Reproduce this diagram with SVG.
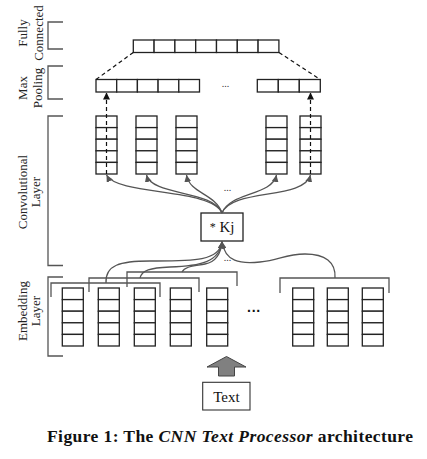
<svg xmlns="http://www.w3.org/2000/svg" width="427" height="459" viewBox="0 0 427 459">
<defs>
<style>
.cell{fill:#fff;stroke:#222;stroke-width:1.3}
.brk{fill:none;stroke:#555;stroke-width:1.3}
.cur{fill:none;stroke:#555;stroke-width:1.3}
.dash{fill:none;stroke:#111;stroke-width:1.2;stroke-dasharray:4 3}
.lbl{font-family:"Liberation Serif","Times New Roman",serif;font-size:13px;fill:#222}
.dots{font-family:"Liberation Serif",serif;font-size:10px;fill:#333}
</style>
<marker id="ah" viewBox="0 0 10 10" refX="10" refY="5" markerWidth="7" markerHeight="7" markerUnits="userSpaceOnUse" orient="auto"><path d="M0,0 L10,5 L0,10 z" fill="#555"/></marker>
<marker id="ahb" viewBox="0 0 10 10" refX="10" refY="5" markerWidth="7" markerHeight="7" markerUnits="userSpaceOnUse" orient="auto"><path d="M0,0 L10,5 L0,10 z" fill="#111"/></marker>
<g id="col">
<rect class="cell" x="0" y="0" width="21" height="11.6"/>
<rect class="cell" x="0" y="11.6" width="21" height="11.6"/>
<rect class="cell" x="0" y="23.2" width="21" height="11.6"/>
<rect class="cell" x="0" y="34.8" width="21" height="11.6"/>
<rect class="cell" x="0" y="46.4" width="21" height="11.6"/>
</g>
</defs>
<rect width="427" height="459" fill="#fff"/>

<g id="labels">
<g id="lbl-fc">
<path class="brk" d="M63,22 H48 V49 H63"/>
<text class="lbl" transform="translate(27,33) rotate(-90)" text-anchor="middle">Fully</text>
<text class="lbl" transform="translate(43,33) rotate(-90)" text-anchor="middle">Connected</text>
</g>
<g id="lbl-mp">
<path class="brk" d="M63,66 H48 V99 H63"/>
<text class="lbl" transform="translate(27,88) rotate(-90)" text-anchor="middle">Max</text>
<text class="lbl" transform="translate(42,88) rotate(-90)" text-anchor="middle">Pooling</text>
</g>
<g id="lbl-conv">
<path class="brk" d="M63,116 H48 V265.5 H63"/>
<text class="lbl" transform="translate(27,192) rotate(-90)" text-anchor="middle">Convolutional</text>
<text class="lbl" transform="translate(40,192) rotate(-90)" text-anchor="middle">Layer</text>
</g>
<g id="lbl-emb">
<path class="brk" d="M63,277 H48 V356 H63"/>
<text class="lbl" transform="translate(27,311) rotate(-90)" text-anchor="middle">Embedding</text>
<text class="lbl" transform="translate(40,311) rotate(-90)" text-anchor="middle">Layer</text>
</g>
</g>

<g id="fully-connected">
<rect class="cell" x="133.3" y="40" width="20.8" height="12.5"/>
<rect class="cell" x="154.1" y="40" width="20.8" height="12.5"/>
<rect class="cell" x="174.9" y="40" width="20.8" height="12.5"/>
<rect class="cell" x="195.7" y="40" width="20.8" height="12.5"/>
<rect class="cell" x="216.5" y="40" width="20.8" height="12.5"/>
<rect class="cell" x="237.3" y="40" width="20.8" height="12.5"/>
<rect class="cell" x="258.1" y="40" width="20.8" height="12.5"/>
</g>

<g id="max-pooling">
<rect class="cell" x="96" y="79.5" width="20.7" height="12.5"/>
<rect class="cell" x="116.7" y="79.5" width="20.7" height="12.5"/>
<rect class="cell" x="137.4" y="79.5" width="20.7" height="12.5"/>
<rect class="cell" x="158.1" y="79.5" width="20.7" height="12.5"/>
<rect class="cell" x="178.8" y="79.5" width="20.7" height="12.5"/>
<text class="dots" x="225.5" y="87" text-anchor="middle">...</text>
<rect class="cell" x="257.3" y="79.5" width="21" height="12.5"/>
<rect class="cell" x="278.3" y="79.5" width="21" height="12.5"/>
<rect class="cell" x="299.3" y="79.5" width="21" height="12.5"/>
</g>

<g id="conv-layer">
<use href="#col" x="96" y="116"/>
<use href="#col" x="136" y="116"/>
<use href="#col" x="176" y="116"/>
<text class="dots" x="227.5" y="191" text-anchor="middle">...</text>
<use href="#col" x="266" y="116"/>
<use href="#col" x="300" y="116"/>
</g>

<g id="kernel">
<rect x="201" y="213" width="42" height="28" fill="#fff" stroke="#222" stroke-width="1.3"/>
<text x="222" y="232" text-anchor="middle" font-family="Liberation Serif, serif" font-size="15" fill="#111"><tspan font-size="12" dy="-1">*</tspan><tspan dy="1"> Kj</tspan></text>
</g>

<g id="embedding-layer">
<use href="#col" x="62.3" y="288"/>
<use href="#col" x="98.3" y="288"/>
<use href="#col" x="134.3" y="288"/>
<use href="#col" x="170.3" y="288"/>
<use href="#col" x="206.7" y="288"/>
<text x="254" y="316" text-anchor="middle" font-family="Liberation Sans, sans-serif" font-size="14" font-weight="bold" fill="#111">···</text>
<use href="#col" x="292.7" y="288"/>
<use href="#col" x="327.3" y="288"/>
<use href="#col" x="362.3" y="288"/>
<path class="brk" d="M51,297 V283 H160 V297"/>
<path class="brk" d="M89,292 V278 H199 V292"/>
<path class="brk" d="M127,287 V272 H237 V286"/>
<path class="brk" d="M280,293 V278 H389 V293"/>
<text class="dots" x="227.5" y="261" text-anchor="middle">...</text>
</g>

<g id="text-input">
<path d="M226.5,356.5 L246,367 L234.5,367 L234.5,376 L218.5,376 L218.5,367 L207,367 Z" fill="#808080" stroke="#444" stroke-width="1"/>
<rect x="202.7" y="382.3" width="47.3" height="27.7" fill="#fff" stroke="#333" stroke-width="1.1"/>
<text x="226.4" y="401.5" text-anchor="middle" font-family="Liberation Serif, serif" font-size="15" fill="#111">Text</text>
</g>

<g id="connectors">
<path class="dash" d="M133.3,52.5 L96,79.5"/>
<path class="dash" d="M279,52.5 L320.3,79.5"/>
<path class="dash" d="M106.5,174 L106.5,92.5" marker-end="url(#ahb)"/>
<path class="dash" d="M310.5,174 L310.5,92.5" marker-end="url(#ahb)"/>
<path class="cur" d="M222,213 C212,188 118,196 106.5,175" marker-end="url(#ah)"/>
<path class="cur" d="M222,213 C213,190 152,196 146.5,175" marker-end="url(#ah)"/>
<path class="cur" d="M222,213 C215,193 190,194 186.5,175" marker-end="url(#ah)"/>
<path class="cur" d="M222,213 C230,192 272,196 276.5,175" marker-end="url(#ah)"/>
<path class="cur" d="M222,213 C232,188 304,200 310.5,175" marker-end="url(#ah)"/>
<path class="cur" d="M106,283 C105,265 120,261 150,261 C190,261 220,262 222,241.5" marker-end="url(#ah)"/>
<path class="cur" d="M140,278 C142,270 150,268 170,267 C200,266 220,262 222,241.5" marker-end="url(#ah)"/>
<path class="cur" d="M182,272 C185,266 195,266 205,264 C215,262 221,255 222,241.5" marker-end="url(#ah)"/>
<path class="cur" d="M335,278 C336,262 325,254 305,254 C285,254 280,260 260,262 C240,264 225,262 222,241.5" marker-end="url(#ah)"/>
</g>

<g id="caption">
<text x="47" y="442" textLength="366" lengthAdjust="spacing" font-family="Liberation Serif, serif" font-size="17.5" font-weight="bold" fill="#111">Figure 1: The <tspan font-style="italic">CNN Text Processor</tspan> architecture</text>
</g>
</svg>
